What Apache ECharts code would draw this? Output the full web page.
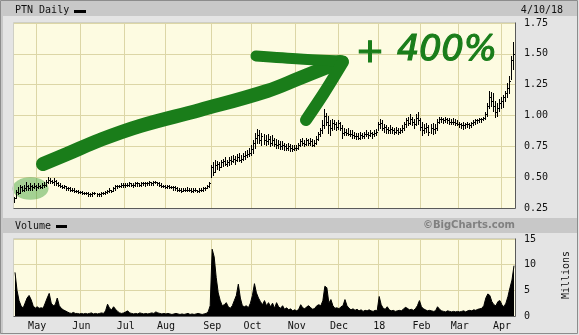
<!DOCTYPE html>
<html><head><meta charset="utf-8">
<script src="https://cdn.jsdelivr.net/npm/echarts@6/dist/echarts.min.js"></script>
<style>html,body{margin:0;padding:0;background:#e4e4e4}#c{width:579px;height:335px}</style>
</head><body><div id="c"></div><script>
// ---- calendar (NYSE trading days) ----
const firstDay = [2017, 3, 13];
const lastDay = [2018, 3, 10];
const holidays = ['2017-04-14','2017-05-29','2017-07-04','2017-09-04','2017-11-23','2017-12-25','2018-01-01','2018-01-15','2018-02-19','2018-03-30'];
const monthKeys = ['2017-05','2017-06','2017-07','2017-08','2017-09','2017-10','2017-11','2017-12','2018-01','2018-02','2018-03','2018-04'];
const monthLabels = ['May','Jun','Jul','Aug','Sep','Oct','Nov','Dec','18','Feb','Mar','Apr'];
const priceTicks = [0.25, 1.75, 0.25];   // min, max, interval
const volTicks = [0, 15, 5];

// ---- daily prices, in cents ----
const high = [
 34,40,42,44,43,44,46,44,45,44,45,
 44,45,44,45,46,48,50,49,48,49,48,46,45,44,44,43,42,42,41,41,40,40,
 39,39,38,38,38,37,38,38,37,37,38,38,39,40,41,40,42,44,44,44,45,45,
 45,45,46,45,45,46,46,45,46,46,46,46,47,46,47,47,46,46,45,44,
 44,44,44,43,43,43,42,41,41,41,41,42,41,41,41,41,40,41,41,42,42,44,46,
 60,62,64,63,62,64,65,66,64,66,67,68,67,69,70,68,70,71,72,74,
 76,80,86,89,88,86,85,84,85,83,84,82,81,80,79,79,78,77,78,77,76,76,
 76,78,81,82,80,82,81,82,81,80,83,87,90,96,105,102,100,96,97,96,95,
 96,95,92,90,89,90,88,88,87,86,86,87,86,87,88,87,88,87,88,89,
 95,97,96,93,92,91,92,91,90,91,90,90,92,95,98,99,101,99,97,101,103,
 98,95,93,94,92,93,94,93,97,99,99,98,99,98,98,97,98,97,96,
 95,94,95,94,95,94,95,96,97,97,98,98,99,103,110,120,119,118,112,110,113,
 115,117,120,126,132,148,160];
const low = [
 30,33,36,37,39,39,40,40,40,40,41,
 40,41,41,41,42,43,45,45,45,44,44,43,42,41,41,40,40,39,39,38,38,37,
 37,36,36,36,35,35,35,36,35,35,35,36,36,37,38,38,39,40,41,42,42,42,
 42,43,43,43,42,43,43,43,43,44,43,44,44,44,44,45,44,43,42,42,
 41,41,41,41,40,40,39,39,38,39,39,39,39,38,38,39,38,38,39,39,40,41,42,
 50,52,54,57,56,58,59,60,59,60,61,62,61,63,63,62,64,65,66,67,
 68,70,74,78,78,76,77,76,77,75,76,75,74,74,73,73,72,72,72,71,71,72,
 72,73,75,76,75,76,76,76,75,75,77,80,83,86,90,92,86,84,88,89,88,
 89,88,82,84,84,84,83,82,82,81,81,81,82,82,83,82,83,82,83,84,
 88,90,88,87,86,86,86,86,85,86,85,86,87,88,91,92,93,92,90,92,93,
 88,84,86,87,84,86,85,86,88,94,95,94,95,94,93,93,93,92,92,
 91,90,89,90,91,90,91,92,93,94,95,95,96,97,100,106,108,104,99,100,104,
 106,107,112,115,118,130,138];
const close = [
 33,38,37,42,40,41,43,41,43,42,43,
 42,43,42,44,44,46,48,47,46,47,45,44,43,42,43,41,41,40,40,39,39,38,
 38,37,37,37,36,36,37,37,36,36,37,37,38,39,40,39,41,43,43,43,44,44,
 44,44,45,44,44,45,45,44,45,45,45,45,46,45,46,46,45,44,43,43,
 42,43,42,42,42,41,40,40,39,40,40,40,40,39,40,40,39,40,40,41,41,43,45,
 58,54,60,61,58,62,63,61,62,64,63,65,64,66,64,65,67,68,69,70,
 73,78,82,84,80,83,80,79,81,78,80,77,76,77,75,76,75,74,75,74,73,74,
 74,76,79,78,77,80,78,79,76,78,81,85,88,92,100,95,92,90,94,93,91,
 94,90,86,87,86,85,85,84,83,83,82,84,83,85,85,84,86,85,86,87,
 93,94,90,91,89,88,89,88,87,88,87,88,90,93,96,94,97,95,93,98,96,
 91,88,90,91,87,90,89,90,95,97,97,96,97,96,95,95,95,94,93,
 93,92,92,93,93,92,94,95,96,96,97,97,98,101,108,115,112,108,103,106,110,
 112,115,118,122,128,145,150];
// ---- daily volume, millions ----
const volume = [
 8.5,5.0,3.0,2.0,1.5,2.5,3.5,4.0,3.2,2.0,1.5,
 1.8,1.5,1.6,1.5,2.5,3.5,4.4,2.5,2.0,2.2,3.5,2.0,1.5,1.2,1.0,0.8,0.6,0.5,0.7,0.5,0.5,0.4,
 0.5,0.4,0.5,0.4,0.5,0.6,0.4,0.5,0.4,0.5,0.6,0.5,1.0,2.3,1.5,1.2,1.8,1.3,0.9,0.6,0.5,0.6,
 0.8,1.0,0.6,0.5,0.4,0.5,0.4,0.6,0.5,0.4,0.5,0.4,0.5,0.6,0.5,0.8,0.6,0.5,0.4,0.5,
 0.4,0.5,0.4,0.3,0.4,0.5,0.4,0.3,0.4,0.3,0.4,0.5,0.3,0.4,0.3,0.4,0.5,0.4,0.3,0.4,0.5,0.8,2.0,
 13.0,11.5,7.5,4.5,3.0,2.0,2.2,2.6,1.8,1.5,2.0,3.0,4.0,6.2,3.5,2.0,1.8,2.0,1.6,2.5,
 4.0,6.3,4.5,3.5,2.8,2.2,3.0,2.0,2.6,1.8,2.5,1.5,2.6,1.8,1.5,2.0,1.3,1.6,1.2,1.4,1.0,1.2,
 1.0,1.3,2.2,1.6,1.4,1.8,2.0,1.6,1.3,1.5,2.0,2.2,2.0,3.0,5.8,5.5,2.5,3.2,2.0,1.5,1.6,
 1.4,1.8,2.0,3.2,2.0,1.5,1.2,1.4,1.1,1.3,1.0,1.2,0.9,1.1,1.0,1.2,1.0,0.9,1.1,1.0,
 3.8,2.2,1.5,1.3,1.8,1.2,1.0,1.1,0.9,1.0,1.1,1.0,1.3,1.7,1.5,1.2,1.3,1.1,1.4,2.0,3.0,
 1.8,1.4,1.2,1.0,1.1,1.0,0.9,1.0,1.8,1.3,1.0,0.9,0.8,1.0,0.9,0.8,0.9,0.8,0.9,
 0.8,0.9,1.0,0.8,1.0,1.1,1.0,1.2,1.1,1.3,1.4,1.5,2.0,3.5,4.3,4.0,2.8,2.2,2.0,2.8,3.0,
 2.2,1.8,2.5,3.8,5.5,7.0,9.8];

// ---- build categories ----
const dates = [];
for (let d = new Date(Date.UTC(...firstDay)); d <= new Date(Date.UTC(...lastDay)); d.setUTCDate(d.getUTCDate() + 1)) {
  const s = d.toISOString().slice(0, 10), wd = d.getUTCDay();
  if (wd === 0 || wd === 6 || holidays.includes(s)) continue;
  dates.push(s);
}
const monthStart = dates.map((s, i) => i > 0 && s.slice(0, 7) !== dates[i - 1].slice(0, 7) && monthKeys.includes(s.slice(0, 7)));
const labelOf = s => monthLabels[monthKeys.indexOf(s.slice(0, 7))];
const ohlc = dates.map((s, i) => [i, low[i] / 100, high[i] / 100, close[i] / 100]);

const MONO = '"DejaVu Sans Mono", monospace';
const GREEN = '#1a7d1a';
const gridColor = '#dcd6a6';
const plotBg = '#fdfbe1';

const chart = echarts.init(document.getElementById('c'), null, {renderer: 'canvas'});
chart.setOption({
  animation: false,
  backgroundColor: '#e4e4e4',
  grid: [
    {left: 14, right: 64, top: 23, height: 185, show: true, backgroundColor: plotBg, borderWidth: 0},
    {left: 14, right: 64, top: 239, height: 77, show: true, backgroundColor: plotBg, borderWidth: 0}
  ],
  xAxis: [
    {type: 'category', gridIndex: 0, data: dates, boundaryGap: true,
     axisLine: {show: false}, axisTick: {show: false}, axisLabel: {show: false},
     splitLine: {show: true, interval: i => monthStart[i], lineStyle: {color: gridColor, width: 1}}},
    {type: 'category', gridIndex: 1, data: dates, boundaryGap: true,
     axisLine: {show: false}, axisTick: {show: false},
     axisLabel: {show: true, interval: i => monthStart[i], formatter: labelOf, margin: 5,
                 fontFamily: MONO, fontSize: 10, color: '#111'},
     splitLine: {show: true, interval: i => monthStart[i], lineStyle: {color: gridColor, width: 1}}}
  ],
  yAxis: [
    {type: 'value', gridIndex: 0, position: 'right', min: priceTicks[0], max: priceTicks[1], interval: priceTicks[2],
     axisLine: {show: false}, axisTick: {show: false},
     axisLabel: {formatter: v => v.toFixed(2), align: 'left', margin: 9, fontFamily: MONO, fontSize: 10, color: '#111'},
     splitLine: {lineStyle: {color: gridColor, width: 1}}},
    {type: 'value', gridIndex: 1, position: 'right', min: volTicks[0], max: volTicks[1], interval: volTicks[2],
     axisLine: {show: false}, axisTick: {show: false},
     axisLabel: {align: 'left', margin: 9, fontFamily: MONO, fontSize: 10, color: '#111'},
     splitLine: {lineStyle: {color: gridColor, width: 1}}}
  ],
  series: [
    {type: 'custom', xAxisIndex: 0, yAxisIndex: 0, data: ohlc, encode: {x: 0, y: [1, 2, 3]}, z: 5,
     renderItem: function (params, api) {
       const i = api.value(0);
       const pH = api.coord([i, api.value(2)]);
       const pL = api.coord([i, api.value(1)]);
       const pC = api.coord([i, api.value(3)]);
       const x = Math.round(pH[0]) - 0.5;
       const yc = Math.round(pC[1]) + 0.5;
       return {type: 'group', children: [
         {type: 'line', shape: {x1: x, y1: Math.round(pH[1]), x2: x, y2: Math.round(pL[1]) + 1}, style: {stroke: '#000', lineWidth: 1}},
         {type: 'line', shape: {x1: x, y1: yc, x2: x + 1.5, y2: yc}, style: {stroke: '#000', lineWidth: 1}}
       ]};
     }},
    {type: 'line', xAxisIndex: 1, yAxisIndex: 1, data: volume, symbol: 'none', silent: true,
     lineStyle: {color: '#000', width: 1}, areaStyle: {color: '#000', opacity: 1}}
  ],
  graphic: [
    {type: 'rect', shape: {x: 0.5, y: 0.5, width: 577, height: 333}, style: {fill: null, stroke: '#8c8c8c', lineWidth: 1}, z: -5, silent: true},
    {type: 'rect', shape: {x: 1, y: 1, width: 576, height: 15}, style: {fill: '#c8c8c8'}, z: -6, silent: true},
    {type: 'rect', shape: {x: 1, y: 218, width: 576, height: 15}, style: {fill: '#c8c8c8'}, z: -6, silent: true},
    {type: 'rect', shape: {x: 1, y: 1, width: 2, height: 332}, style: {fill: '#c8c8c8'}, z: -6, silent: true},
    // plot frames
    {type: 'polyline', shape: {points: [[13.5, 208.5], [13.5, 22.5], [515.5, 22.5]]}, style: {stroke: '#cfcfc4', fill: null, lineWidth: 1}, z: 3, silent: true},
    {type: 'polyline', shape: {points: [[13.5, 208.5], [515.5, 208.5], [515.5, 22.5]]}, style: {stroke: '#5a5a5a', fill: null, lineWidth: 1}, z: 3, silent: true},
    {type: 'polyline', shape: {points: [[13.5, 316.5], [13.5, 238.5], [515.5, 238.5]]}, style: {stroke: '#cfcfc4', fill: null, lineWidth: 1}, z: 3, silent: true},
    {type: 'polyline', shape: {points: [[13.5, 316.5], [515.5, 316.5], [515.5, 238.5]]}, style: {stroke: '#5a5a5a', fill: null, lineWidth: 1}, z: 3, silent: true},
    // header texts
    {type: 'text', x: 15, y: 10.5, style: {text: 'PTN Daily', font: '10px ' + MONO, fill: '#111', verticalAlign: 'middle', align: 'left'}, silent: true},
    {type: 'rect', shape: {x: 74, y: 10, width: 12, height: 3}, style: {fill: '#000'}, silent: true},
    {type: 'text', x: 563, y: 10, style: {text: '4/10/18', font: '10px ' + MONO, fill: '#111', verticalAlign: 'middle', align: 'right'}, silent: true},
    {type: 'text', x: 15, y: 226, style: {text: 'Volume', font: '10px ' + MONO, fill: '#111', verticalAlign: 'middle', align: 'left'}, silent: true},
    {type: 'rect', shape: {x: 56, y: 225, width: 11, height: 3}, style: {fill: '#000'}, silent: true},
    {type: 'text', x: 515, y: 225.5, style: {text: '©BigCharts.com', font: 'bold 10px "DejaVu Sans", sans-serif', fill: '#808080', verticalAlign: 'middle', align: 'right'}, silent: true},
    {type: 'text', x: 566.5, y: 275, rotation: Math.PI / 2, style: {text: 'Millions', font: '10px ' + MONO, fill: '#111', verticalAlign: 'middle', align: 'center'}, silent: true},
    // annotations
    {type: 'circle', x: 30.5, y: 188.5, scaleY: 0.62, shape: {cx: 0, cy: 0, r: 18}, style: {fill: 'rgba(40,150,40,0.42)'}, z: 1, silent: true},
    {type: 'polyline', shape: {points: [[43, 164], [67, 154], [100, 140], [140, 126], [200, 110], [267, 91], [300, 78], [340, 62]], smooth: 0.4},
     style: {stroke: GREEN, lineWidth: 14, lineCap: 'round', lineJoin: 'round', fill: null}, z: 10, silent: true},
    {type: 'polyline', shape: {points: [[256, 56], [300, 59], [343, 61]], smooth: 0.3},
     style: {stroke: GREEN, lineWidth: 11, lineCap: 'round', lineJoin: 'round', fill: null}, z: 10, silent: true},
    {type: 'polyline', shape: {points: [[343, 62], [324, 93], [306, 120]], smooth: 0.3},
     style: {stroke: GREEN, lineWidth: 12, lineCap: 'round', lineJoin: 'round', fill: null}, z: 10, silent: true},
    {type: 'text', x: 370, y: 53, style: {text: '+', font: '34px "DejaVu Sans", sans-serif', fill: GREEN, stroke: GREEN, lineWidth: 1.2, verticalAlign: 'middle', align: 'center'}, z: 10, silent: true},
    {type: 'text', x: 397, y: 51, style: {text: '400%', font: 'italic 35px "DejaVu Sans", sans-serif', fill: GREEN, stroke: GREEN, lineWidth: 1.2, verticalAlign: 'middle', align: 'left'}, z: 10, silent: true}
  ]
});
</script></body></html>
